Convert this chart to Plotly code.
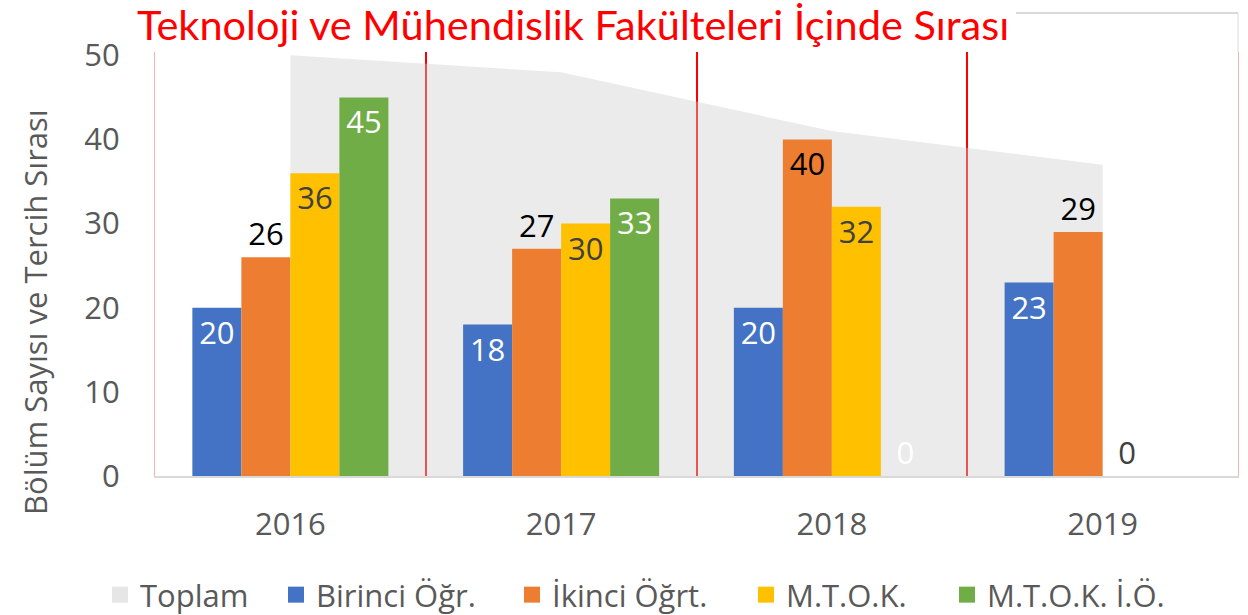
import plotly.graph_objects as go

years = ["2016", "2017", "2018", "2019"]
toplam = [50, 48, 41, 37]
birinci = [20, 18, 20, 23]
ikinci = [26, 27, 40, 29]
mtok = [36, 30, 32, 0]
mtok_io = [45, 33, 0, None]

series_names = ["Birinci Öğr.", "İkinci Öğrt.", "M.T.O.K.", "M.T.O.K. İ.Ö."]
title_text = "Teknoloji ve Mühendislik Fakülteleri İçinde Sırası"
ytitle = "Bölüm Sayısı ve Tercih Sırası"

# styles
colors = ["#4472C4", "#ED7D31", "#FFC000", "#70AD47"]
area_color = "rgba(205,205,205,0.40)"
legend_area_color = "#E6E6E6"
FONT = "Open Sans"
GRAY = "#595959"
W, H = 1248, 615
ML, MR, MT, MB = 155, 10, 52, 139

label_pos = [
    ["inside"] * 4,
    ["outside", "outside", "inside", "outside"],
    ["inside", "inside", "inside", "outside"],
    ["inside", "inside", "outside", "inside"],
]
label_col = [
    ["white"] * 4,
    ["black"] * 4,
    ["#404040"] * 4,
    ["white"] * 4,
]
area_label_dx = [-7, -6, 33, 0]
area_label_dy = [-29, -38, 25, 28]
legend_x_px = [100, 276, 512, 746, 947]

fig = go.Figure()

# Toplam area (main axes, under bars)
fig.add_trace(go.Scatter(
    x=years, y=toplam, mode="lines", fill="tozeroy",
    fillcolor=area_color, line=dict(width=0, color=area_color),
    showlegend=False, hoverinfo="skip", xaxis="x", yaxis="y"))

all_series = [birinci, ikinci, mtok, mtok_io]
for i, (name, vals) in enumerate(zip(series_names, all_series)):
    fig.add_trace(go.Bar(
        x=years, y=vals, name=name, marker=dict(color=colors[i], line=dict(width=0)),
        text=[("" if v is None else str(v)) for v in vals],
        textposition=label_pos[i], insidetextanchor="end",
        textfont=dict(family=FONT, size=31, color=label_col[i]),
        outsidetextfont=dict(family=FONT, size=31, color=label_col[i]),
        insidetextfont=dict(family=FONT, size=31, color=label_col[i]),
        constraintext="none", cliponaxis=False,
        showlegend=False, xaxis="x2", yaxis="y2"))

# legend-only entries, each in its own legend box
legend_items = [("Toplam", legend_area_color)] + list(zip(series_names, colors))
legend_layouts = {}
for k, (name, c) in enumerate(legend_items):
    lname = "legend" if k == 0 else f"legend{k + 1}"
    fig.add_trace(go.Scatter(
        x=[None], y=[None], mode="markers", name=name, legend=lname,
        marker=dict(symbol="square", size=16, color=c),
        xaxis="x2", yaxis="y2"))
    legend_layouts[lname] = dict(
        orientation="h", x=legend_x_px[k] / W, xanchor="left", xref="container",
        y=(H - 595) / H, yanchor="middle", yref="container",
        font=dict(family=FONT, size=31, color=GRAY), itemclick=False,
        bgcolor="rgba(0,0,0,0)", borderwidth=0)

for yr, v, dx, dy in zip(years, toplam, area_label_dx, area_label_dy):
    fig.add_annotation(x=yr, y=v, text=str(v), showarrow=False,
                       xref="x", yref="y", xshift=dx, yshift=dy,
                       font=dict(family=FONT, size=31, color="#404040"))

# title and y-axis title as annotations
fig.add_annotation(text=title_text, xref="paper", yref="paper",
                   x=(135 - 155) / 1083, y=1 + (52 - 24) / 424,
                   xanchor="left", yanchor="middle", showarrow=False,
                   font=dict(family="Lato", size=41.5, color="#FF0000"))
fig.add_annotation(text=ytitle, xref="paper", yref="paper",
                   x=(35 - 155) / 1083, y=(476 - 312) / 424,
                   xanchor="center", yanchor="middle", textangle=-90,
                   showarrow=False,
                   font=dict(family=FONT, size=31, color=GRAY))

yr_range = [0, 50.4]
fig.update_layout(
    template="none",
    width=W, height=H,
    margin=dict(l=ML, r=MR, t=MT, b=MB, pad=0),
    paper_bgcolor="white", plot_bgcolor="white",
    barmode="group", bargap=0.276, bargroupgap=0,
    font=dict(family=FONT, color=GRAY),
    xaxis=dict(type="category", categoryorder="array", categoryarray=years,
               range=[-0.5, 3.5], tickson="boundaries", showgrid=True,
               gridcolor="#FF0000", gridwidth=2, ticks="",
               showline=True, linecolor="#D9D9D9", linewidth=2,
               tickfont=dict(family=FONT, size=31, color=GRAY),
               ticklabelstandoff=20, zeroline=False, automargin=False),
    xaxis2=dict(type="category", categoryorder="array", categoryarray=years,
                range=[-0.5, 3.5], overlaying="x", visible=False),
    yaxis=dict(range=yr_range, dtick=10, showgrid=False, zeroline=False,
               showline=True, mirror=True, linecolor="#F0B4B4", linewidth=1,
               ticks="", ticklabelstandoff=28, automargin=False,
               tickfont=dict(family=FONT, size=31, color=GRAY)),
    yaxis2=dict(range=yr_range, overlaying="y", visible=False),
    shapes=[dict(type="line", xref="paper", yref="paper",
                 x0=0.795, x1=1, y0=1 + 39 / 424, y1=1 + 39 / 424,
                 line=dict(color="#D9D9D9", width=2)),
            dict(type="line", xref="paper", yref="paper",
                 x0=1, x1=1, y0=1, y1=1 + 39 / 424,
                 line=dict(color="#D9D9D9", width=1))],
    **legend_layouts,
)

fig.write_html("out.html",
               config={"displayModeBar": False},
               post_script="document.body.style.margin='0';"
                           "document.body.style.overflow='hidden';")
